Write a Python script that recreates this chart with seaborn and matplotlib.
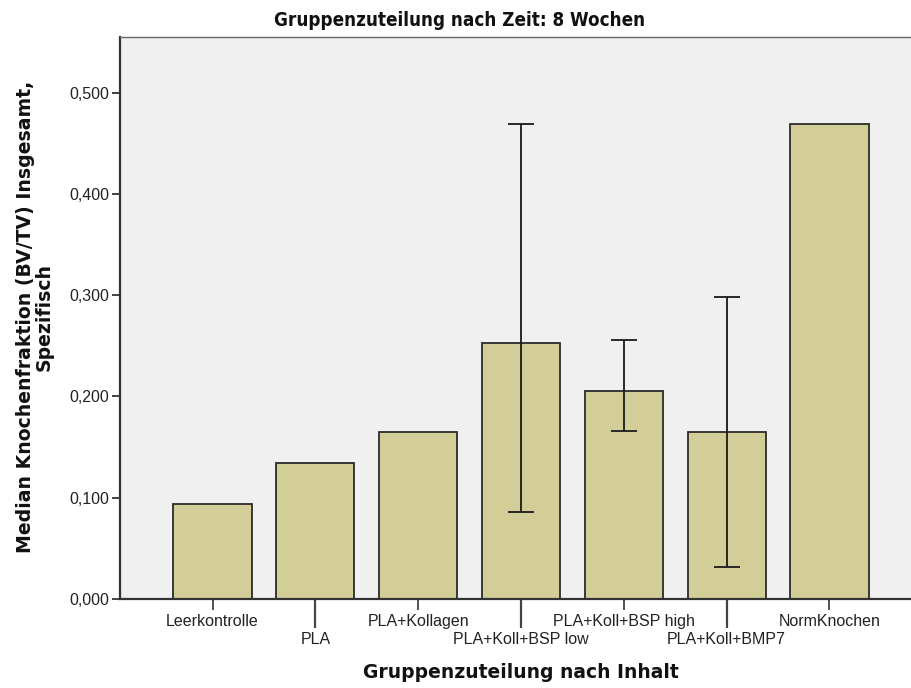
import numpy as np
import pandas as pd
import matplotlib
matplotlib.use("Agg")
import matplotlib.pyplot as plt
import seaborn as sns

# Median bone volume fraction per group after 8 weeks
groups = ["Leerkontrolle", "PLA", "PLA+Kollagen", "PLA+Koll+BSP low",
          "PLA+Koll+BSP high", "PLA+Koll+BMP7", "NormKnochen"]
median_bvtv = [0.094, 0.134, 0.165, 0.253, 0.205, 0.165, 0.469]
err_low = [np.nan, np.nan, np.nan, 0.086, 0.166, 0.032, np.nan]
err_high = [np.nan, np.nan, np.nan, 0.469, 0.256, 0.298, np.nan]
y_ticks = [0.0, 0.1, 0.2, 0.3, 0.4, 0.5]

df = pd.DataFrame({"Gruppe": groups, "BVTV": median_bvtv})

sns.set_theme(style="white")
plt.rcParams["font.family"] = ["Liberation Sans", "DejaVu Sans"]

fig = plt.figure(figsize=(9.11, 6.88), dpi=100)
ax = fig.add_axes([120 / 911, 1 - 599 / 688, 802 / 911, 562 / 688])
ax.set_facecolor("#F0F0F0")

sns.barplot(data=df, x="Gruppe", y="BVTV", ax=ax, color="#D3CE98",
            saturation=1, width=0.76, edgecolor="#2B2B2B", linewidth=1.3,
            errorbar=None)

x = np.arange(len(groups))
med = np.array(median_bvtv)
lo = np.array(err_low)
hi = np.array(err_high)
mask = ~np.isnan(lo)
ax.errorbar(x[mask], med[mask], yerr=[med[mask] - lo[mask], hi[mask] - med[mask]],
            fmt="none", ecolor="#1A1A1A", elinewidth=1.3, capsize=9.5,
            capthick=1.3, zorder=5)

ax.set_xlim(-0.9, 6.9)
ax.set_ylim(0, 0.555)
ax.set_yticks(y_ticks)
ax.set_yticklabels([f"{v:.3f}".replace(".", ",") for v in y_ticks],
                   fontsize=11.5, color="#222222")

# Staggered category labels: even positions on the first row, odd ones lower
ax.set_xticks(x[0::2])
ax.set_xticklabels(groups[0::2], fontsize=11.5, color="#222222")
ax.set_xticks(x[1::2], minor=True)
ax.set_xticklabels(groups[1::2], minor=True, fontsize=11.5, color="#222222")

ax.tick_params(axis="y", direction="out", length=6, width=1.3, color="#333333",
               left=True, pad=2)
ax.tick_params(axis="x", which="major", direction="out", length=8, width=1.3,
               color="#444444", bottom=True, pad=3)
ax.tick_params(axis="x", which="minor", direction="out", length=21, width=1.6,
               color="#444444", bottom=True, pad=2.5)

for side in ["left", "bottom"]:
    ax.spines[side].set_color("#333333")
    ax.spines[side].set_linewidth(1.6)
ax.spines["top"].set_color("#666666")
ax.spines["top"].set_linewidth(1.0)
ax.spines["right"].set_visible(False)

ax.set_xlabel("")
ax.set_ylabel("")
fig.text(521 / 911, 1 - 673 / 688, "Gruppenzuteilung nach Inhalt",
         ha="center", va="center", fontsize=13.5, fontweight="bold",
         family=["DejaVu Sans"], color="#111111")
fig.text(35 / 911, 1 - 317 / 688,
         "Median Knochenfraktion (BV/TV) Insgesamt,\nSpezifisch",
         ha="center", va="center", rotation=90, fontsize=13.6,
         fontweight="bold", family=["DejaVu Sans"], color="#111111",
         linespacing=0.98)
fig.text(460 / 911, 1 - 20 / 688, "Gruppenzuteilung nach Zeit: 8 Wochen",
         ha="center", va="center", fontsize=13.5, fontweight="bold",
         fontstretch="condensed",
         family=["DejaVu Sans"],
         color="#111111")

fig.savefig("out.png", dpi=100)
